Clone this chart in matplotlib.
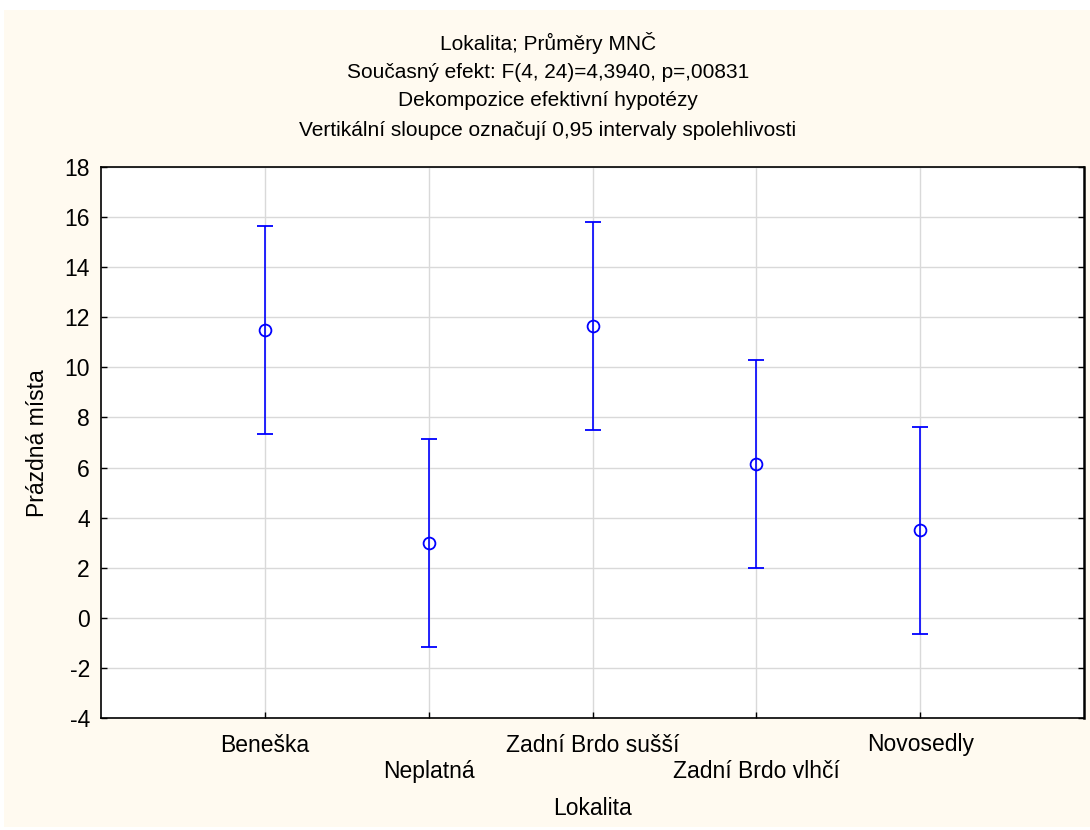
import matplotlib
matplotlib.use("Agg")
import matplotlib.pyplot as plt
from matplotlib.patches import Rectangle
import numpy as np

# Group means and 0.95 confidence limits
categories = ["Beneška", "Neplatná", "Zadní Brdo sušší", "Zadní Brdo vlhčí", "Novosedly"]
means = [11.5, 3.0, 11.65, 6.15, 3.5]
lower = [7.35, -1.15, 7.5, 2.0, -0.65]
upper = [15.65, 7.15, 15.8, 10.3, 7.6]
y_ticks = [-4, -2, 0, 2, 4, 6, 8, 10, 12, 14, 16, 18]

title_lines = [
    "Lokalita; Průměry MNČ",
    "Současný efekt: F(4, 24)=4,3940, p=,00831",
    "Dekompozice efektivní hypotézy",
    "Vertikální sloupce označují 0,95 intervaly spolehlivosti",
]

plt.rcParams["font.family"] = ["Liberation Sans", "DejaVu Sans"]

W, H = 1090, 830
fig = plt.figure(figsize=(W / 100, H / 100), dpi=100)
fig.patch.set_facecolor("white")
fig.patches.append(Rectangle((4 / W, 3 / H), 1.0, (827 - 10) / H,
                             transform=fig.transFigure, facecolor="#FFFAF0",
                             edgecolor="none", zorder=-10))

ax = fig.add_axes([101 / W, (H - 718) / H, (1084 - 101) / W, (718 - 167) / H])
ax.set_zorder(1)
ax.set_facecolor("white")

x = np.arange(1, len(categories) + 1)
m = np.array(means)
yerr = np.vstack([m - np.array(lower), np.array(upper) - m])
ax.errorbar(x, m, yerr=yerr, fmt="o", color="#0000FF", mfc="none", mec="#0000FF",
            markersize=8.5, mew=1.3, elinewidth=1.2, capsize=6, capthick=1.2, zorder=3)

ax.set_xlim(0, 6)
ax.set_ylim(-4, 18)
ax.set_yticks(y_ticks)
ax.set_yticklabels([str(t) for t in y_ticks], fontsize=16.5)
ax.set_xticks(x)
ax.set_xticklabels(["" for _ in categories])
ax.grid(True, color="#D9D9D9", linewidth=1.0, zorder=0)
ax.set_axisbelow(True)
ax.tick_params(axis="y", direction="in", length=4, width=1, left=True, right=True,
               pad=8, colors="black")
ax.tick_params(axis="x", direction="in", length=4, width=1, bottom=True, top=False)
for s in ax.spines.values():
    s.set_color("black")
    s.set_linewidth(1.2)
ax.spines["right"].set_linewidth(1.8)

# Staggered category labels below the axis
for i, (xi, lab) in enumerate(zip(x, categories)):
    ypix = 745 if i % 2 == 0 else 771
    fig.text(ax.transData.transform((xi, 0))[0] / W, 1 - ypix / H, lab,
             ha="center", va="center", fontsize=16.5)

fig.text((101 + 1084) / 2 / W, 1 - 808 / H, "Lokalita", ha="center", va="center", fontsize=16.5)
fig.text(38 / W, 1 - 443 / H, "Prázdná místa", ha="center", va="center",
         rotation=90, fontsize=16.5)

for ypix, line in zip([43, 72, 101, 130], title_lines):
    fig.text(0.5 + 3 / W, 1 - ypix / H, line, ha="center", va="center", fontsize=15)

fig.savefig("out.png", dpi=100, facecolor=fig.get_facecolor())
